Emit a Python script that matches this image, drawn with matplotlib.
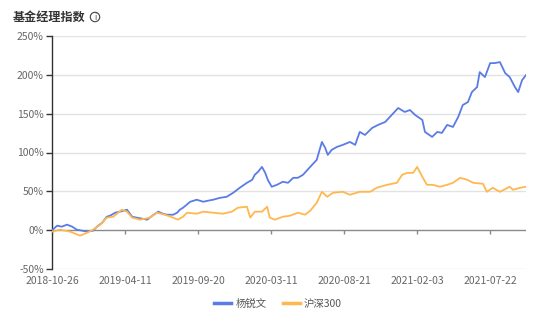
import numpy as np
import matplotlib
matplotlib.use("Agg")
import matplotlib.pyplot as plt
from matplotlib.patches import Ellipse

plt.rcParams['font.family'] = ['Noto Sans CJK SC', 'DejaVu Sans']

# trading-day index of each sample, and cumulative return in %
fund_day = [0, 8, 15, 23, 31, 38, 46, 54, 63, 69, 77, 84, 89, 97, 104, 115, 123, 130, 138, 146,
            150, 156, 163, 170, 176, 186, 192, 196, 201, 212, 222, 232, 239, 247, 258, 268, 278, 288,
            299, 307, 311, 316, 322, 327, 331, 337, 345, 354, 362, 370, 377, 385, 396, 406, 414, 419,
            423, 429, 437, 446, 457, 465, 472, 480, 491, 500, 511, 521, 531, 541, 549, 557, 568, 572,
            583, 591, 598, 606, 615, 623, 630, 638, 644, 652, 656, 664, 672, 679, 687, 695, 702, 710,
            715, 721, 727]
fund_ret = [0, 5.8, 4.5, 7.1, 4.5, 0.6, -0.6, -1.9, -0.6, 4.5, 9.6, 17.3, 18.6, 22.5, 23.8, 26.3,
            17.3, 16.1, 14.8, 13.5, 16.1, 19.9, 23.8, 21.2, 19.9, 19.9, 22.5, 26.3, 28.9, 36.6, 39.2,
            36.6, 37.9, 39.2, 41.7, 43.0, 48.2, 54.6, 61.0, 64.8, 71.3, 75.1, 81.5, 73.8, 64.8, 55.9,
            58.4, 62.3, 61.0, 67.4, 67.4, 71.3, 81.5, 90.5, 113.6, 105.9, 96.9, 103.4, 107.2, 109.8,
            113.6, 109.8, 126.5, 122.6, 131.6, 135.5, 139.3, 148.3, 157.3, 152.2, 154.7, 148.3, 141.9,
            126.5, 120.1, 126.5, 125.2, 135.5, 132.9, 145.7, 161.1, 165.0, 177.8, 184.3, 203.5, 197.1,
            215.1, 215.1, 216.4, 202.3, 197.1, 184.3, 177.8, 193.2, 199.7]

hs300_day = [0, 12, 28, 43, 54, 63, 74, 84, 94, 107, 115, 123, 135, 150, 161, 173, 186, 193, 201,
             207, 222, 232, 247, 262, 276, 285, 299, 304, 311, 322, 330, 334, 342, 354, 365, 377,
             388, 396, 406, 414, 422, 431, 446, 457, 472, 488, 498, 514, 529, 537, 545, 554, 560,
             568, 575, 584, 595, 606, 615, 626, 637, 646, 661, 667, 676, 687, 702, 707, 718, 727]
hs300_ret = [-1.9, 0.6, -1.9, -7.1, -3.2, 0.6, 7.1, 16.1, 17.3, 26.3, 23.8, 16.1, 13.5, 16.1, 22.5,
             19.9, 16.1, 13.5, 17.3, 22.5, 21.2, 23.8, 22.5, 21.2, 23.8, 28.9, 30.2, 16.1, 23.8, 23.8,
             30.2, 16.1, 13.5, 17.3, 18.6, 22.5, 19.9, 25.0, 35.3, 49.4, 43.0, 48.2, 49.4, 45.6, 49.4,
             49.4, 54.6, 58.4, 61.0, 71.3, 73.8, 73.8, 81.5, 68.7, 58.4, 58.4, 55.9, 58.4, 61.0, 67.4,
             64.8, 61.0, 59.7, 49.4, 54.6, 49.4, 55.9, 52.0, 54.6, 55.9]

tick_days = [0, 112, 224, 336, 448, 560, 672]
tick_dates = ['2018-10-26', '2019-04-11', '2019-09-20', '2020-03-11', '2020-08-21', '2021-02-03', '2021-07-22']
y_ticks = [-50, 0, 50, 100, 150, 200, 250]

fig = plt.figure(figsize=(5.54, 3.22), dpi=100)
ax = fig.add_axes([52 / 554, 1 - 269 / 322, 474 / 554, 233 / 322])

blue = '#5b7be6'
orange = '#ffb84f'
ax.plot(fund_day, fund_ret, color=blue, lw=1.3, label='杨锐文', zorder=3)
ax.plot(hs300_day, hs300_ret, color=orange, lw=1.3, label='沪深300', zorder=3)

ax.set_xlim(0, 727)
ax.set_ylim(-50, 250)

# grid
for v in y_ticks:
    if v != 0:
        ax.axhline(v, color='#e3e3e3', lw=1, zorder=1)
# x axis sits on zero
ax.axhline(0, color='#8a8a8a', lw=1, zorder=2)
ax.vlines(tick_days, -4.5, 0, color='#8a8a8a', lw=1, zorder=2)

for s in ['top', 'right', 'bottom']:
    ax.spines[s].set_visible(False)
ax.spines['left'].set_color('#333333')
ax.spines['left'].set_linewidth(1)

ax.set_yticks(y_ticks)
ax.set_yticklabels([f'{v}%' for v in y_ticks])
ax.set_xticks(tick_days)
ax.set_xticklabels(tick_dates)
ax.tick_params(axis='y', length=4, width=1, color='#333333', labelcolor='#666666', labelsize=7.5, pad=2)
ax.tick_params(axis='x', length=0, labelcolor='#666666', labelsize=7.5, pad=5)

# title with info icon
fig.text(13 / 554, 1 - 17 / 322, '基金经理指数', fontsize=8.7, fontweight='bold', color='#333333',
         ha='left', va='center')
fig.patches.append(Ellipse((95 / 554, 1 - 17 / 322), 9.4 / 554, 9.4 / 322, transform=fig.transFigure,
                           fill=False, edgecolor='#444444', lw=0.8))
fig.text(95 / 554, 1 - 17 / 322, 'i', fontsize=5.5, color='#444444', ha='center', va='center',
         family='DejaVu Sans')

fig.legend(loc='center', bbox_to_anchor=(0.502, 1 - 304 / 322), ncol=2, frameon=False,
           fontsize=7.5, handlelength=1.6, handletextpad=0.4, columnspacing=1.6, labelcolor='#555555')
for ln in fig.legends[0].get_lines():
    ln.set_linewidth(2.5)

fig.savefig('out.png', dpi=100)
